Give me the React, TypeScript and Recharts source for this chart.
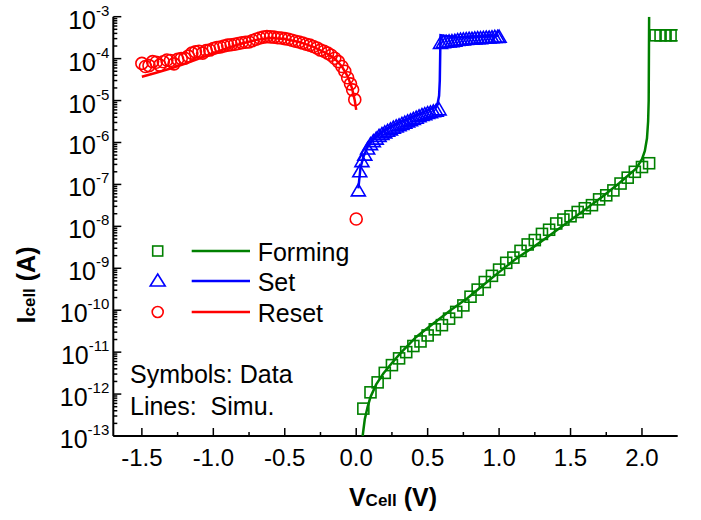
import React from 'react';
import { ScatterChart, Scatter, XAxis, YAxis } from 'recharts';

// ---------- data (V in volts, I in amperes) ----------
const formingV = [0.05, 0.1, 0.15, 0.2, 0.25, 0.3, 0.35, 0.4, 0.45, 0.5, 0.55, 0.6, 0.65, 0.7, 0.75, 0.8, 0.85, 0.9, 0.95, 1.0, 1.05, 1.1, 1.15, 1.2, 1.25, 1.3, 1.35, 1.4, 1.45, 1.5, 1.55, 1.6, 1.65, 1.7, 1.75, 1.8, 1.85, 1.9, 1.95, 2.0, 2.05, 2.095, 2.13, 2.165, 2.2, 2.235];
const formingI = [4.5e-13, 1.1e-12, 1.9e-12, 3.2e-12, 4.9e-12, 7.1e-12, 1.0e-11, 1.4e-11, 1.8e-11, 2.5e-11, 3.5e-11, 4.4e-11, 6.3e-11, 9.1e-11, 1.3e-10, 2.1e-10, 3.1e-10, 4.7e-10, 6.6e-10, 9.3e-10, 1.35e-9, 1.8e-9, 2.6e-9, 3.7e-9, 4.7e-9, 6.6e-9, 8.3e-9, 1.17e-8, 1.45e-8, 1.74e-8, 2.2e-8, 2.7e-8, 3.2e-8, 4.4e-8, 5.5e-8, 7.2e-8, 1.05e-7, 1.45e-7, 2.0e-7, 2.6e-7, 3.2e-7, 3.6e-4, 3.6e-4, 3.6e-4, 3.6e-4, 3.6e-4];

const formingSimV = [0.045, 0.06, 0.08, 0.1, 0.14, 0.19, 0.25, 0.31, 0.42, 0.54, 0.66, 0.78, 0.89, 1.0, 1.12, 1.24, 1.36, 1.48, 1.6, 1.72, 1.84, 1.96, 2.0, 2.02, 2.035, 2.043, 2.047, 2.05];
const formingSimI = [1e-13, 2.5e-13, 5e-13, 8.5e-13, 1.7e-12, 3.1e-12, 5.5e-12, 9.5e-12, 2.3e-11, 4.8e-11, 1e-10, 1.95e-10, 4e-10, 8.1e-10, 1.7e-9, 3.2e-9, 6.3e-9, 1.26e-8, 2.5e-8, 5e-8, 1.07e-7, 2.4e-7, 4e-7, 6.3e-7, 1.26e-6, 3.2e-6, 1e-5, 1e-3];

const setV = [0.015, 0.025, 0.04, 0.06, 0.08, 0.1, 0.12, 0.14, 0.16, 0.18, 0.2, 0.22, 0.24, 0.26, 0.28, 0.3, 0.32, 0.34, 0.36, 0.38, 0.4, 0.42, 0.44, 0.46, 0.48, 0.5, 0.52, 0.54, 0.56, 0.58, 0.59, 0.61, 0.63, 0.65, 0.67, 0.69, 0.71, 0.73, 0.75, 0.77, 0.79, 0.81, 0.83, 0.85, 0.87, 0.89, 0.91, 0.93, 0.95, 0.97, 0.99, 1.0];
const setI = [7e-8, 2e-7, 3.5e-7, 5e-7, 7e-7, 8.9e-7, 1.05e-6, 1.2e-6, 1.4e-6, 1.55e-6, 1.7e-6, 1.85e-6, 2.0e-6, 2.2e-6, 2.35e-6, 2.5e-6, 2.7e-6, 2.9e-6, 3.1e-6, 3.3e-6, 3.55e-6, 3.8e-6, 4.1e-6, 4.4e-6, 4.6e-6, 4.9e-6, 5.1e-6, 5.4e-6, 5.6e-6, 6e-6, 2.3e-4, 2.4e-4, 2.45e-4, 2.5e-4, 2.55e-4, 2.6e-4, 2.7e-4, 2.75e-4, 2.8e-4, 2.85e-4, 2.9e-4, 2.9e-4, 2.95e-4, 3.0e-4, 3.0e-4, 3.05e-4, 3.1e-4, 3.1e-4, 3.15e-4, 3.2e-4, 3.2e-4, 3.25e-4];

const setSimV = [0.015, 0.03, 0.05, 0.08, 0.12, 0.2, 0.3, 0.4, 0.5, 0.55, 0.57, 0.58, 0.585, 0.59, 0.7, 1.0];
const setSimI = [8e-8, 2.5e-7, 4.5e-7, 8e-7, 1.2e-6, 2e-6, 3e-6, 4.2e-6, 5.8e-6, 7e-6, 8.5e-6, 1.3e-5, 3e-5, 3.6e-4, 3.2e-4, 3.5e-4];

const resetV = [-1.5, -1.475, -1.45, -1.425, -1.4, -1.375, -1.35, -1.325, -1.3, -1.275, -1.25, -1.225, -1.2, -1.175, -1.15, -1.125, -1.1, -1.075, -1.05, -1.025, -1.0, -0.975, -0.95, -0.925, -0.9, -0.875, -0.85, -0.825, -0.8, -0.775, -0.75, -0.725, -0.7, -0.675, -0.65, -0.625, -0.6, -0.575, -0.55, -0.525, -0.5, -0.475, -0.45, -0.425, -0.4, -0.375, -0.35, -0.325, -0.3, -0.275, -0.25, -0.225, -0.2, -0.175, -0.15, -0.125, -0.1, -0.08, -0.06, -0.04, -0.025, -0.01, 0.0];
const resetI = [7.7e-5, 6.5e-5, 6.8e-5, 8.5e-5, 8.2e-5, 7.0e-5, 8.4e-5, 9.3e-5, 9.0e-5, 7.5e-5, 9.6e-5, 1.0e-4, 1.02e-4, 1.15e-4, 1.35e-4, 1.45e-4, 1.5e-4, 1.35e-4, 1.55e-4, 1.6e-4, 1.75e-4, 1.85e-4, 1.9e-4, 2.0e-4, 2.1e-4, 2.15e-4, 2.2e-4, 2.3e-4, 2.4e-4, 2.45e-4, 2.5e-4, 2.7e-4, 2.9e-4, 3.1e-4, 3.25e-4, 3.35e-4, 3.3e-4, 3.25e-4, 3.15e-4, 3.1e-4, 3.0e-4, 2.9e-4, 2.75e-4, 2.6e-4, 2.5e-4, 2.35e-4, 2.2e-4, 2.1e-4, 1.95e-4, 1.8e-4, 1.6e-4, 1.5e-4, 1.35e-4, 1.2e-4, 1.02e-4, 8.5e-5, 6.5e-5, 5.0e-5, 3.5e-5, 2.5e-5, 1.8e-5, 1.05e-5, 1.5e-8];

const resetSimV = [-1.5, -1.4, -1.3, -1.2, -1.1, -1.0, -0.9, -0.8, -0.7, -0.6, -0.5, -0.4, -0.3, -0.2, -0.15, -0.1, -0.06, -0.03, -0.01, 0.0];
const resetSimI = [3.7e-5, 4.6e-5, 5.8e-5, 7.5e-5, 1.0e-4, 1.35e-4, 1.8e-4, 2.3e-4, 2.8e-4, 3.1e-4, 2.95e-4, 2.5e-4, 1.9e-4, 1.3e-4, 1.0e-4, 6.5e-5, 3.8e-5, 2.0e-5, 1.0e-5, 6e-6];

const xTicks = [-1.5, -1.25, -1.0, -0.75, -0.5, -0.25, 0.0, 0.25, 0.5, 0.75, 1.0, 1.25, 1.5, 1.75, 2.0];
const yDecades = [-13, -12, -11, -10, -9, -8, -7, -6, -5, -4, -3];
const yMinorMultipliers = [2, 3, 4, 5, 6, 7, 8, 9];

const legendNames = ['Forming', 'Set', 'Reset'];
const noteLines = ['Symbols: Data', 'Lines:  Simu.'];

// ---------- helpers ----------
const zip = (xs: number[], ys: number[]) => xs.map((v, i) => ({ v, i: ys[i] }));
const yTicks: number[] = [];
yDecades.forEach((n) => {
  yTicks.push(Math.pow(10, n));
  if (n < -3) yMinorMultipliers.forEach((k) => yTicks.push(k * Math.pow(10, n)));
});

const GREEN = '#008000';
const BLUE = '#0000ff';
const RED = '#ff0000';
const FONT = '"Liberation Sans", Arial, Helvetica, sans-serif';

const W = 701;
const H = 520;

const isMajorX = (v: number) => Math.abs(v * 2 - Math.round(v * 2)) < 1e-6;
const isMajorY = (v: number) => {
  const l = Math.log10(v);
  return Math.abs(l - Math.round(l)) < 1e-6;
};

const BottomTick = (p: any) => {
  const { x, y, payload } = p;
  const v = payload.value;
  const major = isMajorX(v);
  return (
    <g>
      <line x1={x} x2={x} y1={y} y2={y - (major ? 8 : 4)} stroke="#000" strokeWidth={1.5} />
      {major && (
        <text x={x} y={y + 30} textAnchor="middle" fontSize={24} fontFamily={FONT} fill="#000">
          {v.toFixed(1)}
        </text>
      )}
    </g>
  );
};

const TopTick = (p: any) => {
  const { x, y, payload } = p;
  const major = isMajorX(payload.value);
  return <line x1={x} x2={x} y1={y} y2={y + (major ? 8 : 4)} stroke="#000" strokeWidth={1.5} />;
};

const LeftTick = (p: any) => {
  const { x, y, payload } = p;
  const v = payload.value;
  const major = isMajorY(v);
  const e = Math.round(Math.log10(v));
  return (
    <g>
      <line x1={x} x2={x + (major ? 8 : 4)} y1={y} y2={y} stroke="#000" strokeWidth={1.5} />
      {major && (
        <text x={x - 4} y={y + 12} textAnchor="end" fontFamily={FONT} fill="#000" fontSize={25}>
          10
          <tspan fontSize={15} dy={-13}>{String(e)}</tspan>
        </text>
      )}
    </g>
  );
};

const RightTick = (p: any) => {
  const { x, y, payload } = p;
  const major = isMajorY(payload.value);
  return <line x1={x} x2={x - (major ? 8 : 4)} y1={y} y2={y} stroke="#000" strokeWidth={1.5} />;
};

const SquareShape = (p: any) => {
  const { cx, cy } = p;
  if (cx == null || cy == null) return <g />;
  return <rect x={cx - 5.5} y={cy - 5.5} width={11} height={11} fill="none" stroke={GREEN} strokeWidth={1.6} />;
};
const TriangleShape = (p: any) => {
  const { cx, cy } = p;
  if (cx == null || cy == null) return <g />;
  return (
    <path
      d={`M${cx},${cy - 7}L${cx + 7},${cy + 5}L${cx - 7},${cy + 5}Z`}
      fill="none"
      stroke={BLUE}
      strokeWidth={1.6}
    />
  );
};
const CircleShape = (p: any) => {
  const { cx, cy } = p;
  if (cx == null || cy == null) return <g />;
  return <circle cx={cx} cy={cy} r={6} fill="none" stroke={RED} strokeWidth={1.6} />;
};
const NoShape = () => <g />;

const Overlay = () => {
  const colors = [GREEN, BLUE, RED];
  const rowY = [251, 281, 312];
  const mx = 157.7;
  return (
    <svg width={W} height={H} style={{ position: 'absolute', left: 0, top: 0, pointerEvents: 'none' }}>
      {legendNames.map((name, k) => {
        const y = rowY[k];
        const c = colors[k];
        return (
          <g key={name}>
            {k === 0 && <rect x={mx - 5} y={y - 5} width={10} height={10} fill="none" stroke={c} strokeWidth={1.6} />}
            {k === 1 && (
              <path d={`M${mx},${y - 7}L${mx + 7.5},${y + 5}L${mx - 7.5},${y + 5}Z`} fill="none" stroke={c} strokeWidth={1.6} />
            )}
            {k === 2 && <circle cx={mx} cy={y} r={5.5} fill="none" stroke={c} strokeWidth={1.6} />}
            <line x1={191.7} x2={250} y1={y} y2={y} stroke={c} strokeWidth={2.5} />
            <text x={257.7} y={y + 9.5} fontSize={25} fontFamily={FONT} fill="#000">
              {name}
            </text>
          </g>
        );
      })}
      {noteLines.map((t, k) => (
        <text
          key={t}
          x={130}
          y={383.3 + k * 31.7}
          fontSize={25}
          fontFamily={FONT}
          fill="#000"
          style={{ whiteSpace: 'pre' }}
        >
          {t}
        </text>
      ))}
      <text x={393} y={506} textAnchor="middle" fontFamily={FONT} fontWeight="bold" fill="#000" fontSize={25}>
        V<tspan fontSize={17}>Cell</tspan> (V)
      </text>
      <text
        x={35}
        y={285}
        textAnchor="middle"
        fontFamily={FONT}
        fontWeight="bold"
        fill="#000"
        fontSize={25}
        transform="rotate(-90, 35, 285)"
      >
        I<tspan fontSize={17}>cell</tspan> (A)
      </text>
    </svg>
  );
};

export default function App() {
  const forming = zip(formingV, formingI);
  const formingSim = zip(formingSimV, formingSimI);
  const set = zip(setV, setI);
  const setSim = zip(setSimV, setSimI);
  const reset = zip(resetV, resetI);
  const resetSim = zip(resetSimV, resetSimI);
  const axisLine = { stroke: '#000', strokeWidth: 2 };
  return (
    <div style={{ position: 'absolute', left: 0, top: 0, width: W, height: H, background: '#fff' }}>
      <ScatterChart width={W} height={H} margin={{ top: 16.7, right: 23.3, left: 0, bottom: 0 }}>
        <XAxis
          xAxisId="b"
          type="number"
          dataKey="v"
          domain={[-1.7, 2.25]}
          allowDataOverflow
          ticks={xTicks}
          interval={0}
          tick={<BottomTick />}
          tickLine={false}
          tickSize={0}
          tickMargin={0}
          axisLine={axisLine}
          height={84}
          orientation="bottom"
        />
        <XAxis
          xAxisId="t"
          type="number"
          dataKey="v"
          domain={[-1.7, 2.25]}
          allowDataOverflow
          ticks={xTicks}
          interval={0}
          tick={<TopTick />}
          tickLine={false}
          tickSize={0}
          tickMargin={0}
          axisLine={axisLine}
          height={0}
          orientation="top"
        />
        <YAxis
          yAxisId="l"
          type="number"
          dataKey="i"
          scale="log"
          domain={[1e-13, 1e-3]}
          allowDataOverflow
          ticks={yTicks}
          interval={0}
          tick={<LeftTick />}
          tickLine={false}
          tickSize={0}
          tickMargin={0}
          axisLine={axisLine}
          width={113.3}
          orientation="left"
        />
        <YAxis
          yAxisId="r"
          type="number"
          dataKey="i"
          scale="log"
          domain={[1e-13, 1e-3]}
          allowDataOverflow
          ticks={yTicks}
          interval={0}
          tick={<RightTick />}
          tickLine={false}
          tickSize={0}
          tickMargin={0}
          axisLine={axisLine}
          width={0}
          orientation="right"
        />
        <Scatter xAxisId="b" yAxisId="l" data={forming} shape={SquareShape} isAnimationActive={false} />
        <Scatter xAxisId="b" yAxisId="l" data={set} shape={TriangleShape} isAnimationActive={false} />
        <Scatter xAxisId="b" yAxisId="l" data={reset} shape={CircleShape} isAnimationActive={false} />
        <Scatter
          xAxisId="b"
          yAxisId="l"
          data={formingSim}
          shape={NoShape}
          line={{ stroke: GREEN, strokeWidth: 2.5 }}
          lineType="joint"
          isAnimationActive={false}
        />
        <Scatter
          xAxisId="b"
          yAxisId="l"
          data={setSim}
          shape={NoShape}
          line={{ stroke: BLUE, strokeWidth: 2.5 }}
          lineType="joint"
          isAnimationActive={false}
        />
        <Scatter
          xAxisId="b"
          yAxisId="l"
          data={resetSim}
          shape={NoShape}
          line={{ stroke: RED, strokeWidth: 2.5 }}
          lineType="joint"
          isAnimationActive={false}
        />
      </ScatterChart>
      <Overlay />
    </div>
  );
}
